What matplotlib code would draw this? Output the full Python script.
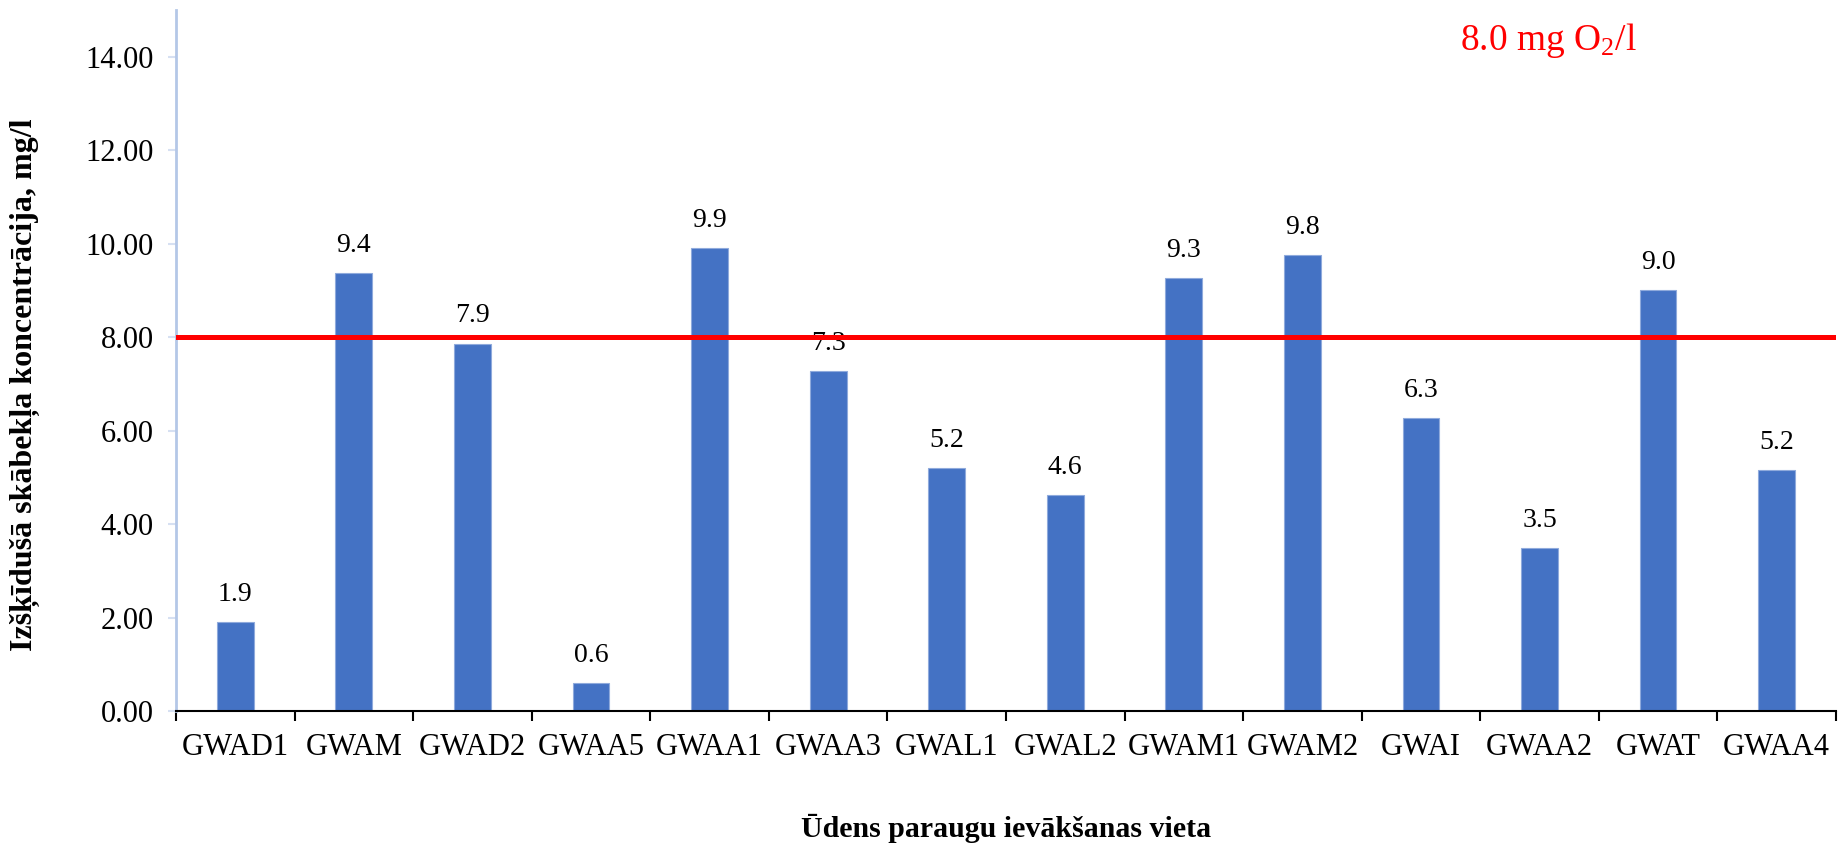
import matplotlib
matplotlib.use("Agg")
import matplotlib.pyplot as plt
import numpy as np

plt.rcParams["font.family"] = ["Liberation Serif", "DejaVu Serif"]
plt.rcParams["mathtext.fontset"] = "custom"
plt.rcParams["mathtext.rm"] = "Liberation Serif"

sites = ["GWAD1", "GWAM", "GWAD2", "GWAA5", "GWAA1", "GWAA3", "GWAL1",
         "GWAL2", "GWAM1", "GWAM2", "GWAI", "GWAA2", "GWAT", "GWAA4"]
oxygen = [1.90, 9.37, 7.86, 0.60, 9.91, 7.27, 5.19,
          4.62, 9.26, 9.76, 6.27, 3.49, 9.01, 5.16]
limit_val = 8.0
y_ticks = [0, 2, 4, 6, 8, 10, 12, 14]

fig = plt.figure(figsize=(18.45, 8.44), dpi=100)
ax = fig.add_axes([0.0954, 0.1576, 0.8997, 0.8305])

x = np.arange(len(sites))
bars = ax.bar(x, oxygen, width=0.31, color="#4472C4", edgecolor="#8FAADC", linewidth=0.8, zorder=2)
for b, v in zip(bars, oxygen):
    ax.annotate(f"{v:.1f}", (b.get_x() + b.get_width() / 2, v), xytext=(0, 11),
                textcoords="offset points", ha="center", va="bottom", fontsize=20)

ax.axhline(limit_val, color="#FF0000", linewidth=3.6, zorder=3)
ax.text(0.827, 0.957, f"{limit_val:.1f} mg O$\\mathregular{{_2}}$/l", transform=ax.transAxes,
        color="#FF0000", fontsize=27, ha="center", va="center")

ax.set_xlim(-0.5, len(sites) - 0.5)
ax.set_ylim(0, 15)
ax.set_yticks(y_ticks)
ax.set_yticklabels([f"{t:.2f}" for t in y_ticks], fontsize=22)
ax.set_xticks(x)
ax.set_xticklabels(sites, fontsize=22)
ax.set_xticks(np.arange(-0.5, len(sites), 1), minor=True)
ax.tick_params(axis="x", which="major", length=0, pad=16)
ax.tick_params(axis="x", which="minor", length=7, width=1.5, color="black", direction="out")
ax.tick_params(axis="y", length=6, width=1.5, color="#D6E0F2", pad=10)

for s in ["top", "right"]:
    ax.spines[s].set_visible(False)
ax.spines["left"].set_color("#B4C7E7")
ax.spines["left"].set_linewidth(2)
ax.spines["bottom"].set_color("black")
ax.spines["bottom"].set_linewidth(1.5)
ax.spines["bottom"].set_zorder(4)

ax.set_ylabel("Izšķīdušā skābekļa koncentrācija, mg/l", fontsize=23, fontweight="bold")
ax.yaxis.set_label_coords(-0.082, 0.465)
ax.set_xlabel("Ūdens paraugu ievākšanas vieta", fontsize=21.5, fontweight="bold")
ax.xaxis.set_label_coords(0.5, -0.147)

fig.savefig("out.png", dpi=100)
